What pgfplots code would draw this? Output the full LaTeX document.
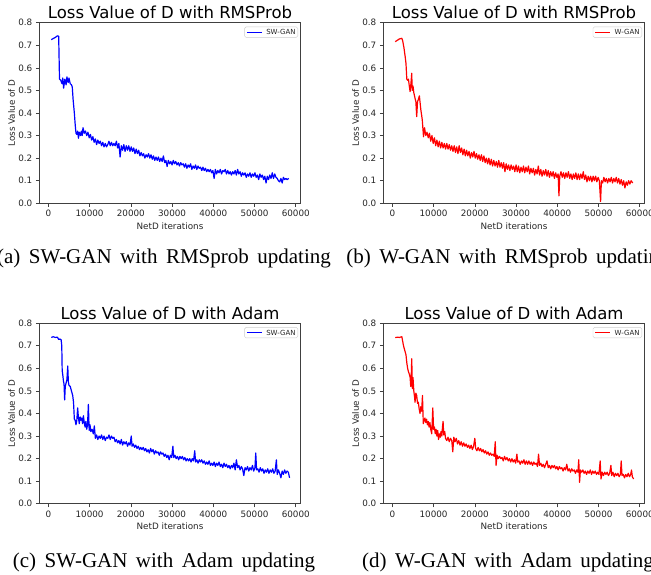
\documentclass[border=0pt]{standalone}
\usepackage{fontspec}
\setmainfont{Liberation Serif}
\newfontfamily\djv{DejaVu Sans}
\usepackage{pgfplots}
\pgfplotsset{compat=1.18}

\pgfplotsset{
  lossax/.style={
    scale only axis, width=261.4pt, height=180.6pt,
    xmin=-2200, xmax=61200, ymin=0, ymax=0.8,
    scaled x ticks=false, scaled y ticks=false,
    xtick={0,10000,20000,30000,40000,50000,60000},
    xticklabels={0,10000,20000,30000,40000,50000,60000},
    ytick={0,0.1,0.2,0.3,0.4,0.5,0.6,0.7,0.8},
    yticklabels={0.0,0.1,0.2,0.3,0.4,0.5,0.6,0.7,0.8},
    tick label style={font=\djv\fontsize{8.8}{10}\selectfont, text=black!85},
    tick align=outside, tick pos=left, major tick length=3.5pt,
    every tick/.style={black!75, line width=0.6pt},
    axis line style={black!75, line width=0.6pt},
    xlabel={NetD iterations}, ylabel={Loss Value of D},
    every axis x label/.style={at={(axis description cs:0.5,0)}, anchor=base, yshift=-26pt,
      font=\djv\fontsize{8.8}{10}\selectfont, text=black!85},
    every axis y label/.style={at={(axis description cs:-0.093,0.5)}, rotate=90, anchor=base,
      font=\djv\fontsize{8.8}{10}\selectfont, text=black!85},
    every axis title/.style={at={(axis description cs:0.5,1)}, anchor=base, yshift=3.7pt,
      font=\djv\fontsize{16.5}{19}\selectfont},
  },
  curve/.style={line width=1.2pt, line join=round, color=#1},
}
% small framed key in the upper right corner of each panel
\tikzset{keybox/.style={anchor=north east, xshift=-2.7pt, yshift=-4pt, draw=black!20, fill=white,
  rounded corners=1.5pt, inner xsep=2.2pt, inner ysep=2.6pt, text=black!85,
  font=\djv\fontsize{7}{8}\selectfont}}
\newcommand{\keyline}[1]{\textcolor{#1}{\rule[1.9pt]{15pt}{1.1pt}}\hspace{4.5pt}}

\begin{document}
\begin{tikzpicture}

% (a) SW-GAN, RMSprob
\begin{axis}[lossax, at={(39.3pt,371.7pt)}, anchor=south west,
  title={Loss Value of D with RMSProb}]
\addplot[curve=blue] coordinates {
(700,0.725) (1200,0.73) (1700,0.735) (2200,0.742) (2500,0.74) (2700,0.55) (3000,0.545) (3300,0.53)
(3500,0.555) (3700,0.51) (4000,0.55) (4300,0.525) (4500,0.56) (4800,0.535) (5000,0.555) (5300,0.53)
(5600,0.525) (5800,0.515) (6000,0.46) (6300,0.40) (6500,0.35) (6700,0.31) (6900,0.305) (7100,0.32)
(7300,0.288) (7500,0.315) (7800,0.30) (8000,0.32) (8200,0.30) (8400,0.335) (8700,0.31) (9000,0.32)
(9300,0.30) (9600,0.315) (9900,0.29) (10200,0.305) (10500,0.28) (10800,0.295) (11100,0.27) (11400,0.285)
(11700,0.26) (12000,0.28) (12300,0.265) (12600,0.275) (12900,0.255) (13200,0.27) (13500,0.25) (13800,0.265)
(14100,0.25) (14400,0.26) (14700,0.275) (15000,0.255) (15300,0.27) (15600,0.255) (15900,0.265) (16200,0.255)
(16500,0.275) (16800,0.245) (17100,0.265) (17400,0.205) (17700,0.255) (18000,0.235) (18300,0.26) (18600,0.23)
(18900,0.255) (19200,0.235) (19500,0.255) (19800,0.23) (20100,0.25) (20400,0.23) (20700,0.245) (21000,0.22)
(21300,0.24) (21600,0.22) (21900,0.235) (22200,0.21) (22500,0.225) (22800,0.21) (23100,0.22) (23400,0.2)
(23700,0.215) (24000,0.205) (24300,0.22) (24600,0.2) (24900,0.215) (25200,0.195) (25500,0.21) (25800,0.19)
(26100,0.205) (26400,0.19) (26700,0.205) (27000,0.185) (27300,0.2) (27600,0.185) (27900,0.21) (28200,0.18)
(28500,0.19) (28800,0.163) (29100,0.19) (29400,0.175) (29700,0.185) (30000,0.17) (30300,0.19) (30600,0.175)
(30900,0.185) (31200,0.17) (31500,0.18) (31800,0.165) (32100,0.18) (32400,0.17) (32700,0.175) (33000,0.16)
(33300,0.175) (33600,0.155) (33900,0.17) (34200,0.16) (34500,0.175) (34800,0.15) (35100,0.165) (35400,0.155)
(35700,0.17) (36000,0.15) (36300,0.165) (36600,0.155) (36900,0.16) (37200,0.145) (37500,0.16) (37800,0.145)
(38100,0.155) (38400,0.14) (38700,0.15) (39000,0.14) (39300,0.15) (39600,0.135) (39900,0.145) (40200,0.11)
(40500,0.15) (40800,0.13) (41100,0.145) (41400,0.135) (41700,0.15) (42000,0.13) (42300,0.145) (42600,0.14)
(42900,0.15) (43200,0.13) (43500,0.145) (43800,0.13) (44100,0.14) (44400,0.125) (44700,0.14) (45000,0.13)
(45300,0.145) (45600,0.125) (45900,0.15) (46200,0.13) (46500,0.14) (46800,0.12) (47100,0.135) (47400,0.125)
(47700,0.135) (48000,0.115) (48300,0.13) (48600,0.12) (48900,0.135) (49200,0.115) (49500,0.13) (49800,0.12)
(50100,0.135) (50400,0.115) (50700,0.125) (51000,0.105) (51300,0.13) (51600,0.115) (51900,0.125) (52200,0.105)
(52500,0.12) (52800,0.09) (53100,0.12) (53400,0.105) (53700,0.125) (54000,0.11) (54300,0.135) (54600,0.11)
(54900,0.13) (55200,0.115) (55500,0.11) (55800,0.1) (56100,0.095) (56400,0.11) (56700,0.09) (57000,0.115)
(57300,0.105) (57600,0.11) (57900,0.105) (58300,0.11)};
\node[keybox] at (axis description cs:1,1) {\keyline{blue}SW-GAN};
\end{axis}

% (b) W-GAN, RMSprob
\begin{axis}[lossax, at={(383.3pt,371.7pt)}, anchor=south west,
  title={Loss Value of D with RMSProb}]
\addplot[curve=red] coordinates {
(700,0.716) (1200,0.722) (1700,0.728) (2300,0.731) (2500,0.72) (2800,0.69) (3100,0.65) (3300,0.62)
(3500,0.55) (3700,0.545) (3900,0.55) (4100,0.52) (4300,0.495) (4500,0.53) (4700,0.576) (4800,0.50)
(5000,0.52) (5200,0.49) (5500,0.465) (5700,0.45) (5900,0.384) (6100,0.45) (6300,0.46) (6550,0.476)
(6900,0.415) (7100,0.39) (7250,0.37) (7550,0.295) (7800,0.335) (8100,0.30) (8400,0.315) (8700,0.29)
(9000,0.31) (9300,0.275) (9600,0.30) (9900,0.265) (10200,0.29) (10500,0.255) (10800,0.28) (11100,0.25)
(11400,0.275) (11700,0.245) (12000,0.27) (12300,0.245) (12600,0.265) (12900,0.24) (13200,0.265) (13500,0.24)
(13800,0.26) (14100,0.235) (14400,0.255) (14700,0.23) (15000,0.255) (15300,0.225) (15600,0.25) (15900,0.22)
(16200,0.255) (16500,0.225) (16800,0.245) (17100,0.215) (17400,0.24) (17700,0.21) (18000,0.235) (18300,0.21)
(18600,0.23) (18900,0.2) (19200,0.225) (19500,0.205) (19800,0.23) (20100,0.2) (20400,0.22) (20700,0.195)
(21000,0.215) (21300,0.19) (21600,0.215) (21900,0.185) (22200,0.21) (22500,0.18) (22800,0.2) (23100,0.175)
(23400,0.2) (23700,0.17) (24000,0.195) (24300,0.165) (24600,0.19) (24900,0.165) (25200,0.185) (25500,0.16)
(25800,0.19) (26100,0.16) (26400,0.18) (26700,0.155) (27000,0.18) (27300,0.14) (27600,0.175) (27900,0.15)
(28200,0.17) (28500,0.145) (28800,0.17) (29100,0.15) (29400,0.165) (29700,0.14) (30000,0.17) (30300,0.14)
(30600,0.165) (30900,0.135) (31200,0.16) (31500,0.14) (31800,0.165) (32100,0.135) (32400,0.16) (32700,0.14)
(33000,0.165) (33300,0.13) (33600,0.155) (33900,0.135) (34200,0.155) (34500,0.125) (34800,0.15) (35100,0.13)
(35400,0.165) (35700,0.125) (36000,0.15) (36300,0.12) (36600,0.145) (36900,0.125) (37200,0.15) (37500,0.12)
(37800,0.145) (38100,0.115) (38400,0.14) (38700,0.12) (39000,0.14) (39300,0.11) (39600,0.135) (39900,0.115)
(40200,0.13) (40400,0.033) (40600,0.12) (40900,0.14) (41200,0.115) (41500,0.135) (41800,0.11) (42100,0.135)
(42400,0.115) (42700,0.14) (43000,0.11) (43300,0.13) (43600,0.105) (43900,0.13) (44200,0.11) (44500,0.135)
(44800,0.105) (45100,0.13) (45400,0.105) (45700,0.13) (46000,0.11) (46300,0.14) (46600,0.105) (46900,0.125)
(47200,0.095) (47500,0.12) (47800,0.1) (48100,0.12) (48400,0.095) (48700,0.12) (49000,0.1) (49300,0.12)
(49600,0.095) (49900,0.115) (50200,0.1) (50500,0.008) (50700,0.1) (51000,0.09) (51300,0.115) (51600,0.095)
(51900,0.11) (52200,0.09) (52500,0.11) (52800,0.095) (53100,0.115) (53400,0.09) (53700,0.11) (54000,0.095)
(54300,0.115) (54600,0.09) (54900,0.11) (55200,0.085) (55500,0.105) (55800,0.08) (56100,0.1) (56400,0.068)
(56700,0.095) (57000,0.08) (57300,0.1) (57600,0.085) (57900,0.1) (58300,0.09)};
\node[keybox] at (axis description cs:1,1) {\keyline{red}W-GAN};
\end{axis}

% (c) SW-GAN, Adam
\begin{axis}[lossax, at={(39.3pt,71.2pt)}, anchor=south west,
  title={Loss Value of D with Adam}]
\addplot[curve=blue] coordinates {
(700,0.737) (1200,0.74) (1700,0.737) (2200,0.738) (2500,0.728) (2800,0.73) (3100,0.726) (3250,0.70)
(3350,0.59) (3500,0.57) (3650,0.545) (3800,0.53) (3950,0.46) (4100,0.52) (4300,0.535) (4500,0.55)
(4700,0.61) (4850,0.54) (5000,0.525) (5300,0.52) (5600,0.50) (5900,0.48) (6100,0.45) (6300,0.375)
(6500,0.37) (6700,0.35) (6900,0.37) (7100,0.425) (7300,0.38) (7500,0.355) (7700,0.385) (7900,0.37)
(8100,0.38) (8300,0.355) (8500,0.39) (8700,0.36) (8900,0.34) (9100,0.365) (9300,0.33) (9500,0.35)
(9700,0.44) (9900,0.325) (10100,0.35) (10300,0.32) (10600,0.33) (10900,0.31) (11150,0.345) (11400,0.29)
(11700,0.305) (12000,0.285) (12300,0.30) (12600,0.29) (12900,0.305) (13200,0.285) (13500,0.30) (13800,0.28)
(14100,0.295) (14400,0.29) (14700,0.305) (15000,0.285) (15300,0.30) (15600,0.29) (15900,0.295) (16200,0.275)
(16500,0.285) (16800,0.27) (17100,0.28) (17400,0.265) (17700,0.285) (18000,0.26) (18300,0.275) (18600,0.265)
(18900,0.275) (19200,0.255) (19500,0.27) (19800,0.26) (20100,0.30) (20300,0.255) (20600,0.265) (20900,0.25)
(21200,0.26) (21500,0.245) (21800,0.255) (22100,0.24) (22400,0.25) (22700,0.24) (23000,0.25) (23300,0.235)
(23600,0.245) (23900,0.23) (24200,0.24) (24500,0.225) (24800,0.245) (25100,0.23) (25400,0.24) (25700,0.22)
(26000,0.235) (26300,0.225) (26600,0.23) (26900,0.215) (27200,0.23) (27500,0.22) (27800,0.225) (28100,0.21)
(28400,0.22) (28700,0.205) (29000,0.215) (29300,0.195) (29600,0.215) (29900,0.205) (30200,0.255) (30400,0.205)
(30700,0.215) (31000,0.2) (31300,0.21) (31600,0.195) (31900,0.21) (32200,0.2) (32500,0.21) (32800,0.195)
(33100,0.205) (33400,0.19) (33700,0.2) (34000,0.19) (34300,0.2) (34600,0.185) (34900,0.2) (35200,0.19)
(35500,0.235) (35700,0.185) (36000,0.195) (36300,0.18) (36600,0.195) (36900,0.185) (37200,0.195) (37500,0.18)
(37800,0.19) (38100,0.175) (38400,0.185) (38700,0.175) (39000,0.19) (39300,0.17) (39600,0.18) (39900,0.17)
(40200,0.185) (40500,0.165) (40800,0.18) (41100,0.17) (41400,0.185) (41700,0.165) (42000,0.175) (42300,0.16)
(42600,0.18) (42900,0.165) (43200,0.175) (43500,0.16) (43800,0.17) (44100,0.155) (44400,0.17) (44700,0.16)
(45000,0.18) (45300,0.15) (45600,0.195) (45900,0.16) (46200,0.17) (46500,0.15) (46800,0.165) (47100,0.155)
(47400,0.125) (47700,0.16) (48000,0.15) (48300,0.165) (48600,0.145) (48900,0.16) (49200,0.15) (49500,0.17)
(49800,0.145) (50100,0.16) (50300,0.225) (50500,0.15) (50800,0.155) (51100,0.14) (51400,0.16) (51700,0.145)
(52000,0.155) (52300,0.135) (52600,0.15) (52900,0.14) (53200,0.155) (53500,0.135) (53800,0.15) (54100,0.14)
(54400,0.155) (54700,0.135) (55000,0.145) (55300,0.195) (55500,0.13) (55800,0.15) (56100,0.135) (56400,0.115)
(56700,0.145) (57000,0.13) (57300,0.15) (57600,0.135) (57900,0.145) (58200,0.14) (58500,0.115)};
\node[keybox] at (axis description cs:1,1) {\keyline{blue}SW-GAN};
\end{axis}

% (d) W-GAN, Adam
\begin{axis}[lossax, at={(383.3pt,71.2pt)}, anchor=south west,
  title={Loss Value of D with Adam}]
\addplot[curve=red] coordinates {
(700,0.736) (1200,0.738) (1700,0.737) (2300,0.74) (2500,0.72) (2700,0.70) (3000,0.68) (3300,0.66)
(3500,0.625) (3700,0.60) (3900,0.585) (4100,0.575) (4300,0.56) (4450,0.52) (4600,0.58) (4700,0.643)
(4850,0.51) (5000,0.56) (5200,0.50) (5400,0.47) (5500,0.45) (5700,0.49) (5900,0.48) (6100,0.445)
(6300,0.45) (6500,0.42) (6700,0.40) (6900,0.43) (7100,0.41) (7300,0.48) (7500,0.355) (7700,0.37)
(7900,0.38) (8100,0.36) (8300,0.375) (8500,0.35) (8700,0.365) (8900,0.34) (9100,0.36) (9300,0.33)
(9550,0.31) (9800,0.425) (10000,0.33) (10200,0.34) (10400,0.31) (10600,0.33) (10800,0.3) (11000,0.325)
(11200,0.285) (11400,0.31) (11600,0.295) (11800,0.32) (12000,0.30) (12150,0.34) (12300,0.365) (12450,0.305)
(12700,0.32) (12900,0.29) (13200,0.28) (13500,0.295) (13800,0.275) (14100,0.29) (14400,0.28) (14650,0.23)
(14900,0.295) (15200,0.275) (15500,0.29) (15800,0.265) (16100,0.28) (16400,0.26) (16700,0.275) (17000,0.255)
(17300,0.27) (17600,0.255) (17900,0.265) (18200,0.25) (18500,0.26) (18800,0.245) (19100,0.26) (19400,0.24)
(19700,0.255) (20000,0.29) (20200,0.245) (20500,0.235) (20800,0.25) (21100,0.235) (21400,0.245) (21700,0.23)
(22000,0.24) (22300,0.225) (22600,0.235) (22900,0.22) (23200,0.23) (23500,0.215) (23800,0.225) (24100,0.215)
(24400,0.22) (24700,0.21) (24950,0.275) (25150,0.17) (25400,0.215) (25700,0.2) (26000,0.21) (26300,0.2)
(26600,0.205) (26900,0.19) (27200,0.21) (27500,0.195) (27800,0.205) (28100,0.19) (28400,0.2) (28700,0.185)
(29000,0.2) (29300,0.185) (29600,0.195) (29900,0.18) (30200,0.22) (30400,0.185) (30700,0.19) (31000,0.175)
(31300,0.19) (31600,0.18) (31900,0.195) (32200,0.175) (32500,0.19) (32800,0.175) (33100,0.19) (33400,0.175)
(33700,0.185) (34000,0.17) (34300,0.185) (34600,0.175) (34900,0.18) (35200,0.165) (35450,0.22) (35700,0.17)
(36000,0.18) (36300,0.165) (36600,0.175) (36900,0.16) (37200,0.175) (37500,0.19) (37800,0.16) (38100,0.17)
(38400,0.155) (38700,0.17) (39000,0.16) (39300,0.17) (39600,0.155) (39900,0.165) (40200,0.15) (40500,0.165)
(40800,0.155) (41100,0.16) (41400,0.145) (41700,0.16) (42000,0.15) (42300,0.175) (42600,0.145) (42900,0.155)
(43200,0.14) (43500,0.155) (43800,0.145) (44100,0.15) (44400,0.135) (44700,0.15) (45000,0.14) (45200,0.195)
(45400,0.095) (45600,0.15) (45900,0.14) (46200,0.15) (46500,0.135) (46800,0.145) (47100,0.13) (47400,0.145)
(47700,0.135) (48000,0.15) (48300,0.13) (48600,0.145) (48900,0.135) (49200,0.145) (49500,0.13) (49800,0.14)
(50100,0.13) (50400,0.19) (50600,0.11) (50900,0.14) (51200,0.125) (51500,0.14) (51800,0.13) (52100,0.14)
(52400,0.125) (52700,0.135) (53000,0.17) (53200,0.125) (53500,0.14) (53800,0.12) (54100,0.135) (54400,0.125)
(54700,0.135) (55000,0.12) (55300,0.13) (55500,0.19) (55700,0.125) (56000,0.13) (56300,0.115) (56600,0.13)
(56900,0.12) (57200,0.135) (57500,0.12) (57800,0.13) (58000,0.15) (58200,0.12) (58500,0.11)};
\node[keybox] at (axis description cs:1,1) {\keyline{red}W-GAN};
\end{axis}

% sub-captions, set like the paper's Times captions
\begin{scope}[every node/.style={anchor=base, inner sep=0pt, font=\fontsize{21}{25}\selectfont}]
\node at (164pt,311.7pt) {\spaceskip=8.5pt\relax (a) SW-GAN with RMSprob updating};
\node at (508pt,311.7pt) {\spaceskip=8.5pt\relax (b) W-GAN with RMSprob updating};
\node at (164pt,7pt) {\spaceskip=8.5pt\relax (c) SW-GAN with Adam updating};
\node at (508pt,7pt) {\spaceskip=8.5pt\relax (d) W-GAN with Adam updating};
\end{scope}

\pgfresetboundingbox
\useasboundingbox (0pt,0pt) rectangle (651pt,575pt);
\end{tikzpicture}
\end{document}
